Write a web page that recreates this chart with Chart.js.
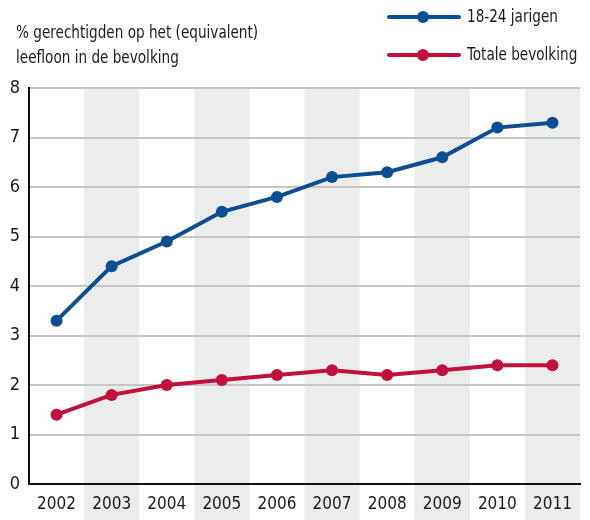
<!DOCTYPE html>
<html>
<head>
<meta charset="utf-8">
<script src="https://cdn.jsdelivr.net/npm/chart.js@4"></script>
<style>
  body { margin: 0; background: #fff; }
  #wrap { width: 590px; height: 520px; position: relative; }
</style>
</head>
<body>
<div id="wrap"><canvas id="myChart"></canvas></div>
<script>
const years = ['2002', '2003', '2004', '2005', '2006', '2007', '2008', '2009', '2010', '2011'];
const jongeren = [3.3, 4.4, 4.9, 5.5, 5.8, 6.2, 6.3, 6.6, 7.2, 7.3];
const totaal = [1.4, 1.8, 2.0, 2.1, 2.2, 2.3, 2.2, 2.3, 2.4, 2.4];
const yTicks = [0, 1, 2, 3, 4, 5, 6, 7, 8];
const seriesNames = ['18-24 jarigen', 'Totale bevolking'];
const titleLines = ['% gerechtigden op het (equivalent)', 'leefloon in de bevolking'];

const BLUE = '#0b4e93';
const RED = '#c20f3c';
const FONT = '"DejaVu Sans Condensed", "Liberation Sans Narrow", sans-serif';

// smalle tekst: iets groter lettertype, horizontaal samengedrukt
function narrowText(ctx, text, x, y) {
    ctx.save();
    ctx.translate(x, y);
    ctx.scale(0.84, 1);
    ctx.fillText(text, 0, 0);
    ctx.restore();
}

// grijze banden achter elk tweede jaar, doorlopend tot onder de labels
const bands = {
    id: 'bands',
    beforeDraw(chart) {
        const ctx = chart.ctx;
        const x = chart.scales.x;
        const area = chart.chartArea;
        const w = (area.right - area.left) / years.length;
        ctx.save();
        ctx.fillStyle = '#ebecec';
        years.forEach(function (y, i) {
            if (i % 2 === 1) {
                const cx = x.getPixelForValue(i);
                ctx.fillRect(cx - w / 2, area.top, w, chart.height - area.top);
            }
        });
        ctx.restore();
    }
};

// titel linksboven en legenda rechtsboven
const header = {
    id: 'header',
    afterDraw(chart) {
        const ctx = chart.ctx;
        ctx.save();
        ctx.fillStyle = '#1a1a1a';
        ctx.font = '18px ' + FONT;
        ctx.textBaseline = 'middle';
        narrowText(ctx, titleLines[0], 16, 33);
        narrowText(ctx, titleLines[1], 16, 58);

        const colors = [BLUE, RED];
        const rows = [17, 55];
        seriesNames.forEach(function (name, i) {
            const y = rows[i];
            ctx.strokeStyle = colors[i];
            ctx.lineWidth = 4;
            ctx.lineCap = 'round';
            ctx.beginPath();
            ctx.moveTo(389, y);
            ctx.lineTo(459, y);
            ctx.stroke();
            ctx.fillStyle = colors[i];
            ctx.beginPath();
            ctx.arc(423, y, 6, 0, Math.PI * 2);
            ctx.fill();
            ctx.fillStyle = '#1a1a1a';
            ctx.font = '18px ' + FONT;
            narrowText(ctx, name, 467, y);
        });
        ctx.restore();
    }
};

const ctx = document.getElementById('myChart');
new Chart(ctx, {
    type: 'line',
    data: {
        labels: years,
        datasets: [{
            label: seriesNames[0],
            data: jongeren,
            borderColor: BLUE,
            backgroundColor: BLUE,
            borderWidth: 4,
            pointRadius: 6,
            pointHoverRadius: 6,
            pointBorderWidth: 0,
            tension: 0
        }, {
            label: seriesNames[1],
            data: totaal,
            borderColor: RED,
            backgroundColor: RED,
            borderWidth: 4,
            pointRadius: 6,
            pointHoverRadius: 6,
            pointBorderWidth: 0,
            tension: 0
        }]
    },
    options: {
        responsive: true,
        maintainAspectRatio: false,
        animation: false,
        layout: {
            padding: { top: 88, right: 10, left: 0, bottom: 0 }
        },
        scales: {
            x: {
                offset: true,
                grid: { display: false, drawTicks: false },
                border: { color: '#111', width: 2 },
                ticks: {
                    color: '#1a1a1a',
                    font: { family: FONT, size: 17 },
                    padding: 10,
                    maxRotation: 0
                },
                afterFit: function (s) { s.height = 36; }
            },
            y: {
                min: 0,
                max: 8,
                afterBuildTicks: function (s) {
                    s.ticks = yTicks.map(function (v) { return { value: v }; });
                },
                grid: { color: '#c6c6c6', lineWidth: 2, drawTicks: false },
                border: { color: '#111', width: 2 },
                ticks: {
                    color: '#1a1a1a',
                    font: { family: FONT, size: 18 },
                    padding: 9
                },
                afterFit: function (s) { s.width = 29; }
            }
        },
        plugins: {
            legend: { display: false },
            tooltip: { enabled: false }
        }
    },
    plugins: [bands, header]
});
</script>
</body>
</html>
